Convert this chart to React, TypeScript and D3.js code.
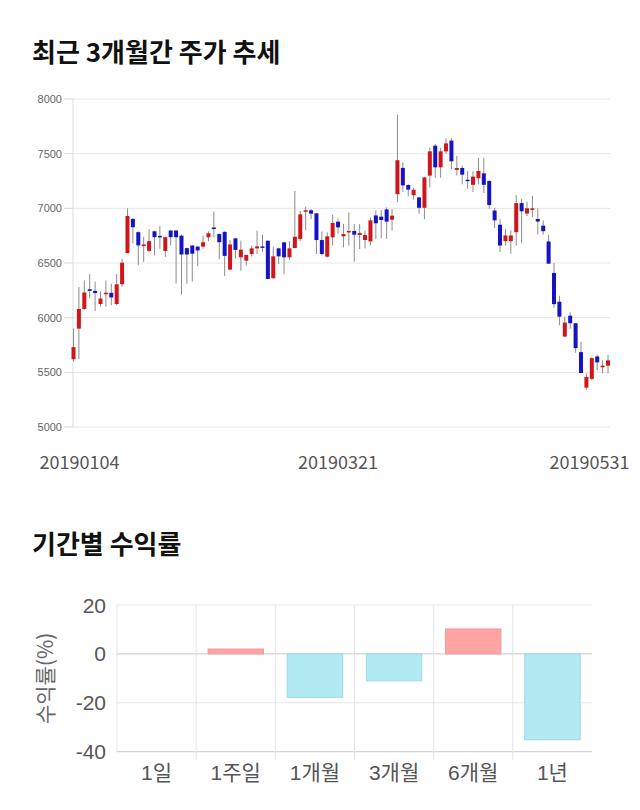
import React from "react";
import * as d3 from "d3";

// ---- Candlestick data (daily, 2019-01-04 .. 2019-05-31) ----
const opens = [
  5620, 5900, 6080, 6260, 6245, 6125, 6215, 6227, 6125, 6306,
  6590, 6903, 6782, 6655, 6610, 6790, 6748, 6610, 6797, 6797,
  6750, 6636, 6660, 6650, 6650, 6735, 6825, 6765, 6785, 6440,
  6725, 6552, 6521, 6582, 6634, 6652, 6704, 6360, 6634, 6689,
  6552, 6637, 6720, 6970, 6982, 6954, 6710, 6558, 6735, 6878,
  6744, 6781, 6793, 6756, 6710, 6698, 6935, 6924, 6990, 6896,
  7130, 7370, 7213, 7120, 7100, 7005, 7299, 7573, 7375, 7521,
  7619, 7351, 7369, 7262, 7215, 7275, 7320, 7250, 6980, 6850,
  6700, 6700, 6782, 7048, 6952, 7000, 6903, 6842, 6697, 6409,
  6146, 5827, 6018, 5949, 5685, 5360, 5440, 5645, 5546, 5561,
];
const highs = [
  5900, 6280, 6340, 6400, 6330, 6240, 6340, 6310, 6400, 6540,
  7000, 6910, 6790, 6740, 6810, 6795, 6840, 6740, 6800, 6800,
  6760, 6640, 6665, 6655, 6750, 6790, 6970, 6770, 6790, 6710,
  6730, 6705, 6580, 6660, 6796, 6760, 6704, 6650, 6640, 6695,
  6700, 7160, 6975, 7015, 6994, 6960, 6790, 6780, 6940, 6905,
  6857, 6963, 6857, 6857, 6796, 6915, 6979, 6985, 7010, 6994,
  7857, 7420, 7220, 7190, 7105, 7285, 7555, 7590, 7555, 7640,
  7640, 7480, 7390, 7340, 7340, 7460, 7460, 7260, 7005, 6900,
  6810, 6800, 7121, 7085, 7060, 7115, 7000, 6890, 6760, 6500,
  6200, 6010, 6050, 5950, 5780, 5490, 5640, 5660, 5610, 5660,
];
const lows = [
  5600, 5620, 6070, 6180, 6060, 6100, 6100, 6115, 6115, 6282,
  6590, 6680, 6480, 6510, 6600, 6570, 6630, 6555, 6660, 6312,
  6210, 6310, 6330, 6470, 6630, 6700, 6735, 6535, 6380, 6430,
  6540, 6430, 6475, 6560, 6582, 6600, 6354, 6360, 6491, 6399,
  6530, 6637, 6700, 6800, 6900, 6582, 6570, 6550, 6660, 6765,
  6643, 6659, 6512, 6628, 6634, 6660, 6719, 6725, 6720, 6796,
  7055, 7150, 7110, 7080, 6950, 6900, 7190, 7280, 7280, 7500,
  7360, 7300, 7220, 7180, 7150, 7220, 7140, 6995, 6820, 6600,
  6660, 6585, 6660, 6680, 6930, 6920, 6760, 6760, 6490, 6090,
  5930, 5820, 5900, 5680, 5490, 5340, 5430, 5520, 5490, 5490,
];
const closes = [
  5730, 6080, 6230, 6245, 6225, 6175, 6228, 6185, 6305, 6503,
  6930, 6827, 6661, 6670, 6700, 6736, 6740, 6736, 6736, 6736,
  6578, 6578, 6585, 6615, 6690, 6772, 6815, 6690, 6565, 6670,
  6620, 6622, 6573, 6634, 6652, 6643, 6354, 6561, 6561, 6552,
  6634, 6740, 6945, 6982, 6951, 6710, 6582, 6744, 6866, 6826,
  6765, 6793, 6759, 6774, 6756, 6890, 6863, 6893, 6878, 6933,
  7440, 7210, 7171, 7170, 7005, 7283, 7521, 7375, 7521, 7594,
  7430, 7369, 7308, 7250, 7290, 7342, 7215, 7030, 6890, 6660,
  6752, 6752, 7048, 6973, 7000, 7000, 6879, 6791, 6494, 6124,
  6009, 5955, 5949, 5721, 5494, 5458, 5630, 5591, 5561, 5609,
];
const priceTicks = [5000, 5500, 6000, 6500, 7000, 7500, 8000];
const dateLabels = ["20190104", "20190321", "20190531"];
const dateLabelIndex = [0, 49, 99];

// ---- Period returns ----
const periods = ["1일", "1주일", "1개월", "3개월", "6개월", "1년"];
const returns = [0, 2.0, -17.8, -11.0, 10.2, -35.1];
const returnTicks = [20, 0, -20, -40];

const W = 640;
const H = 810;
const KR = "'Noto Sans CJK KR', 'Noto Sans', sans-serif";
const NUM = "'Liberation Sans', Arial, 'Noto Sans CJK KR', sans-serif";

export default function App() {
  // top chart scales
  const plotL = 73;
  const plotR = 610;
  const y = d3.scaleLinear().domain([5000, 8000]).range([427, 99]);
  const x = d3.scaleLinear().domain([0, opens.length - 1]).range([73.5, 608]);
  const bodyW = 4;

  // bottom chart scales
  const y2 = d3.scaleLinear().domain([-40, 20]).range([751.7, 605]);
  const x2 = d3.scaleBand<string>().domain(periods).range([117, 592]).padding(0);
  const barW = x2.bandwidth() * 0.7;

  const labelHalf = 39.5;
  const clampX = (v: number) => Math.max(40 + labelHalf, Math.min(629 - labelHalf, v));

  return (
    <svg
      width={W}
      height={H}
      viewBox={`0 0 ${W} ${H}`}
      style={{ position: "absolute", left: 0, top: 0, background: "#fff" }}
    >
      <rect x={0} y={0} width={W} height={H} fill="#fff" />
      {/* Title 1 */}
      <text x={32} y={62} fontFamily={KR} fontWeight={700} fontSize={26} fill="#111">
        최근 3개월간 주가 추세
      </text>

      {/* grid */}
      {priceTicks.map((t) => (
        <g key={t}>
          <line x1={plotL} x2={plotR} y1={y(t)} y2={y(t)} stroke="#e6e6e6" strokeWidth={1} />
          <line x1={64} x2={plotL} y1={y(t)} y2={y(t)} stroke="#d8d8d8" strokeWidth={1} />
          <text
            x={62}
            y={y(t)}
            dy="0.35em"
            textAnchor="end"
            fontFamily={NUM}
            fontSize={11}
            fill="#666"
          >
            {t}
          </text>
        </g>
      ))}
      <line x1={plotL} x2={plotL} y1={y(8000)} y2={y(5000)} stroke="#dcdcdc" strokeWidth={1} />

      {/* candles */}
      {opens.map((o, i) => {
        const c = closes[i];
        const up = c >= o;
        const cx = x(i);
        const top = y(Math.max(o, c));
        const bot = y(Math.min(o, c));
        const color = up ? "#d0161b" : "#1414c4";
        return (
          <g key={i}>
            <line x1={cx} x2={cx} y1={y(highs[i])} y2={y(lows[i])} stroke="#8c8c8c" strokeWidth={1} />
            <rect x={cx - bodyW / 2} y={top} width={bodyW} height={Math.max(1.5, bot - top)} fill={color} />
          </g>
        );
      })}

      {/* date labels */}
      {dateLabels.map((d, k) => (
        <text
          key={d}
          x={clampX(x(dateLabelIndex[k]))}
          y={469}
          textAnchor="middle"
          fontFamily={KR}
          fontSize={18}
          fill="#555"
        >
          {d}
        </text>
      ))}

      {/* Title 2 */}
      <text x={32} y={554} fontFamily={KR} fontWeight={700} fontSize={26} fill="#111">
        기간별 수익률
      </text>

      {/* returns grid */}
      {returnTicks.map((t) => (
        <g key={t}>
          <line
            x1={117}
            x2={592}
            y1={y2(t)}
            y2={y2(t)}
            stroke={t === 0 || t === -40 ? "#c8c8c8" : "#e6e6e6"}
            strokeWidth={1}
          />
          <text
            x={106}
            y={y2(t)}
            dy="0.36em"
            textAnchor="end"
            fontFamily={NUM}
            fontSize={21}
            fill="#555"
          >
            {t}
          </text>
        </g>
      ))}
      {periods.map((p, i) => (
        <line
          key={p}
          x1={x2(p)!}
          x2={x2(p)!}
          y1={605}
          y2={i === 0 ? y2(-40) : 760}
          stroke="#e3e3e3"
          strokeWidth={1}
        />
      ))}

      {/* bars */}
      {periods.map((p, i) => {
        const v = returns[i];
        if (v === 0) return null;
        const cx = x2(p)! + x2.bandwidth() / 2;
        const top = y2(Math.max(0, v));
        const bot = y2(Math.min(0, v));
        const pos = v > 0;
        return (
          <rect
            key={p}
            x={cx - barW / 2}
            y={top}
            width={barW}
            height={bot - top}
            fill={pos ? "#ffa3a3" : "#b1eaf3"}
            stroke={pos ? "#f59a9a" : "#9fd8e2"}
            strokeWidth={1}
          />
        );
      })}

      {/* x labels */}
      {periods.map((p) => (
        <text
          key={p}
          x={x2(p)! + x2.bandwidth() / 2}
          y={780}
          textAnchor="middle"
          fontFamily={NUM}
          fontSize={21}
          fill="#555"
        >
          {p}
        </text>
      ))}

      {/* y axis title */}
      <text
        transform={`translate(53, ${y2(-10)}) rotate(-90)`}
        textAnchor="middle"
        fontFamily={KR}
        fontSize={21}
        fill="#666"
      >
        수익률(%)
      </text>
    </svg>
  );
}
